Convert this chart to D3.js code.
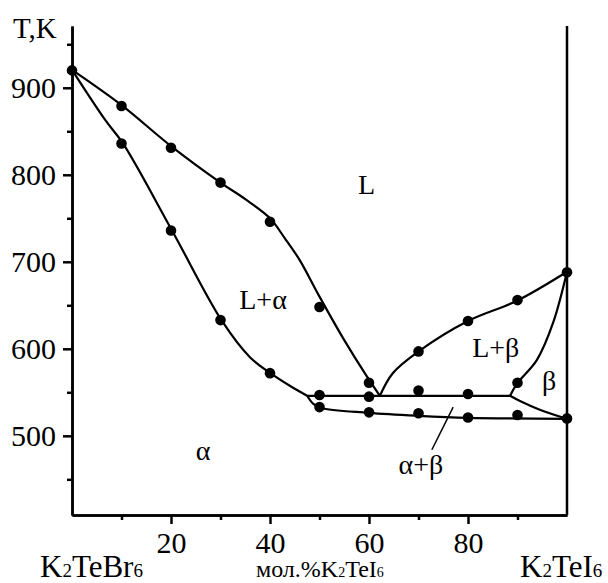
<!DOCTYPE html>
<html>
<head>
<meta charset="utf-8">
<script src="https://cdn.jsdelivr.net/npm/d3@7/dist/d3.min.js"></script>
<style>
  body { margin: 0; background: #fff; }
  text { font-family: "Liberation Serif", "Times New Roman", serif; fill: #000; }
</style>
</head>
<body>
<div id="chart"></div>
<script>
// ticks
const xMajorTicks = [20, 40, 60, 80];
const xMinorTicks = [10, 30, 50, 70, 90];
const yMajorTicks = [500, 600, 700, 800, 900];
const yMinorTicks = [450, 550, 650, 750, 850, 950];

// measured points: [mol.% K2TeI6, T (K)]
const liquidusAlphaPts = [[0, 920], [10, 879], [20, 831], [30, 791], [40, 746], [50, 648], [60, 561]];
const solidusAlphaPts = [[10, 836], [20, 736], [30, 633], [40, 572]];
const eutecticPts = [[50, 547], [60, 545], [70, 552], [80, 548]];
const solvusPts = [[50, 533], [60, 527], [70, 526], [80, 521], [90, 524], [100, 520]];
const liquidusBetaPts = [[70, 597], [80, 632], [90, 656], [100, 688]];
const solidusBetaPts = [[90, 561]];

// phase boundaries as traced on the figure
const liquidusAlphaCurve = [[0, 920.5], [10, 880], [20, 833], [30, 791], [35, 772], [40, 750], [43, 727], [46, 702], [50, 660], [55, 610], [59.6, 568], [62.2, 546]];
const solidusAlphaCurve = [[0, 920.5], [6.7, 863], [10.3, 836], [20.2, 736], [30.3, 632], [36, 590], [40.6, 570], [44, 557.5], [47.5, 546]];
const solvusCurve = [[47.5, 546], [48.7, 537], [50.3, 532], [60, 526.4], [70, 523], [80, 520.7], [100, 519.5]];
const eutecticLine = [[47.5, 546], [88.5, 546]];
const liquidusBetaCurve = [[62.2, 546], [64.8, 572], [69.9, 596.6], [80, 632], [89.9, 655.2], [100, 688.5]];
const solidusBetaCurve = [[100, 688.5], [97.2, 630], [93.9, 587], [89.9, 560], [88.5, 546]];
const solvusBetaCurve = [[88.5, 546], [90.5, 540], [94.5, 530], [100, 519.5]];

const curves = [liquidusAlphaCurve, solidusAlphaCurve, solvusCurve, eutecticLine,
  liquidusBetaCurve, solidusBetaCurve, solvusBetaCurve];
const points = [].concat(liquidusAlphaPts, solidusAlphaPts, eutecticPts, solvusPts,
  liquidusBetaPts, solidusBetaPts);

// region labels: [text, mol.%, T at baseline]
const regionLabels = [["L", 59.5, 778], ["L+α", 38.6, 646], ["L+β", 85.6, 591], ["β", 96.4, 553], ["α", 26.5, 472], ["α+β", 70.5, 456]];
const leader = [[72.7, 484], [77, 533]];

const width = 608, height = 583;
const svg = d3.select("#chart").append("svg")
  .attr("width", width)
  .attr("height", height);

const x = d3.scaleLinear().domain([0, 100]).range([72, 567]);
const y = d3.scaleLinear().domain([409, 971]).range([515, 26]);

const serif = "Liberation Serif, Times New Roman, serif";

// Axes
svg.append("g")
  .attr("transform", `translate(${x(0)},0)`)
  .call(d3.axisLeft(y).tickValues(yMajorTicks).tickSize(9).tickSizeOuter(0).tickPadding(7))
  .attr("font-family", serif)
  .attr("font-size", 30);

svg.append("g")
  .attr("transform", `translate(${x(0)},0)`)
  .call(d3.axisLeft(y).tickValues(yMinorTicks).tickSize(5).tickSizeOuter(0).tickFormat(""));

svg.append("g")
  .attr("transform", `translate(0,${y(409)})`)
  .call(d3.axisBottom(x).tickValues(xMajorTicks).tickSize(9).tickSizeOuter(0).tickPadding(8))
  .attr("font-family", serif)
  .attr("font-size", 30);

svg.append("g")
  .attr("transform", `translate(0,${y(409)})`)
  .call(d3.axisBottom(x).tickValues(xMinorTicks).tickSize(5).tickSizeOuter(0).tickFormat(""));

svg.selectAll(".domain, .tick line").attr("stroke", "#000").attr("stroke-width", 2.5);

// right border (pure K2TeI6)
svg.append("line")
  .attr("x1", x(100)).attr("x2", x(100))
  .attr("y1", y(971)).attr("y2", y(409))
  .attr("stroke", "#000").attr("stroke-width", 2.5);

// Curves
const line = d3.line()
  .x(d => x(d[0]))
  .y(d => y(d[1]))
  .curve(d3.curveCatmullRom.alpha(0.5));

svg.append("g").selectAll("path")
  .data(curves)
  .join("path")
  .attr("d", line)
  .attr("fill", "none")
  .attr("stroke", "#000")
  .attr("stroke-width", 2.2);

svg.append("path")
  .datum(leader)
  .attr("d", d3.line().x(d => x(d[0])).y(d => y(d[1])))
  .attr("stroke", "#000")
  .attr("stroke-width", 1.5);

// Points
svg.append("g").selectAll("circle")
  .data(points)
  .join("circle")
  .attr("cx", d => x(d[0]))
  .attr("cy", d => y(d[1]))
  .attr("r", 5.3)
  .attr("fill", "#000");

// Region labels
svg.append("g").selectAll("text")
  .data(regionLabels)
  .join("text")
  .attr("x", d => x(d[1]))
  .attr("y", d => y(d[2]))
  .attr("text-anchor", "middle")
  .style("font-size", "28px")
  .text(d => d[0]);

// Axis titles
svg.append("text")
  .attr("x", 13).attr("y", 38)
  .style("font-size", "29px")
  .text("T,K");

function formula(sel, parts, big, small) {
  parts.forEach(p => {
    sel.append("tspan")
      .style("font-size", p.sub ? small : big)
      .text(p.t);
  });
}

const leftLabel = svg.append("text").attr("x", 40).attr("y", 577);
formula(leftLabel, [{t: "K"}, {t: "2", sub: true}, {t: "TeBr"}, {t: "6", sub: true}], "31px", "19px");

const rightLabel = svg.append("text").attr("x", 520).attr("y", 577);
formula(rightLabel, [{t: "K"}, {t: "2", sub: true}, {t: "TeI"}, {t: "6", sub: true}], "31px", "19px");

const midLabel = svg.append("text").attr("x", 256).attr("y", 577);
formula(midLabel, [{t: "мол.%"}, {t: "K"}, {t: "2", sub: true}, {t: "TeI"}, {t: "6", sub: true}], "24px", "14px");
</script>
</body>
</html>
